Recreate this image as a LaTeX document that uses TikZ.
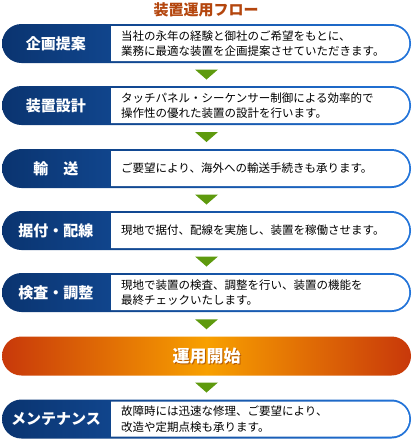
\documentclass[tikz,border=0pt]{standalone}
\usepackage{fontspec}
\setmainfont{Noto Sans CJK JP}
\definecolor{navy}{HTML}{0A3470}
\definecolor{skyline}{HTML}{2274DA}
\definecolor{leafgreen}{HTML}{5E9A0E}
\definecolor{rust}{HTML}{B4460E}
\definecolor{ember}{HTML}{C8380A}
\definecolor{amber}{HTML}{F8A000}
\usetikzlibrary{positioning,calc,shapes.misc}
\newcommand{\downtri}[1]{\fill[leafgreen] ($(#1)+(-11.5,-5)$) -- ($(#1)+(11.5,-5)$) -- ($(#1)+(0,5)$) -- cycle;}

\begin{document}
\begin{tikzpicture}[x=1pt,y=-1pt,
  bar/.style={rounded rectangle,minimum width=409pt,minimum height=39pt,inner sep=0pt,left color=navy,right color=skyline},
  panel/.style={rounded rectangle,rounded rectangle left arc=none,anchor=west,fill=white,minimum width=298pt,minimum height=35pt,inner sep=0pt},
  txt/.style={anchor=west,align=left,inner sep=0pt,font=\fontsize{11.5}{15.5}\selectfont},
  lab/.style={text=white,inner sep=0pt,font=\fontsize{15}{15}\selectfont\bfseries}]
\useasboundingbox (0,0) rectangle (413,440);
\node [text=rust,font=\fontsize{15}{15}\selectfont\bfseries] (ttl) at (206,10) {装置運用フロー};
% steps
\node [bar] (r1) at (206.5,43.5) {};
\node [panel] (p1) at (111,43.5) {};
\node [lab] (l1) at (56,43.5) {企画提案};
\node [txt] (t1) at (121,43.5) {当社の永年の経験と御社のご希望をもとに、\\業務に最適な装置を企画提案させていただきます。};

\node [bar] (r2) at (206.5,105.5) {};
\node [panel] (p2) at (111,105.5) {};
\node [lab] (l2) at (56,105.5) {装置設計};
\node [txt] (t2) at (121,105.5) {タッチパネル・シーケンサー制御による効率的で\\操作性の優れた装置の設計を行います。};

\node [bar] (r3) at (206.5,168.5) {};
\node [panel] (p3) at (111,168.5) {};
\node [lab] (l3) at (56,168.5) {輸　送};
\node [txt] (t3) at (121,168.5) {ご要望により、海外への輸送手続きも承ります。};

\node [bar] (r4) at (206.5,230.5) {};
\node [panel] (p4) at (111,230.5) {};
\node [lab] (l4) at (56,230.5) {据付・配線};
\node [txt] (t4) at (121,230.5) {現地で据付、配線を実施し、装置を稼働させます。};

\node [bar] (r5) at (206.5,292.5) {};
\node [panel] (p5) at (111,292.5) {};
\node [lab] (l5) at (56,292.5) {検査・調整};
\node [txt] (t5) at (121,292.5) {現地で装置の検査、調整を行い、装置の機能を\\最終チェックいたします。};

\node [bar,left color=ember,right color=ember,middle color=amber] (r6) at (206.5,356) {};
\node [lab,text=ember!60!black,opacity=.5,font=\fontsize{17}{17}\selectfont\bfseries] (s6) at (207.5,357) {運用開始};
\node [lab,font=\fontsize{17}{17}\selectfont\bfseries] (l6) at (206.5,356) {運用開始};

\node [bar] (r7) at (206.5,419) {};
\node [panel] (p7) at (111,419) {};
\node [lab] (l7) at (56,419) {メンテナンス};
\node [txt] (t7) at (121,419) {故障時には迅速な修理、ご要望により、\\改造や定期点検も承ります。};
% arrows
\coordinate (a1) at ($(r1.south)!.5!(r2.north)$);
\coordinate (a2) at ($(r2.south)!.5!(r3.north)$);
\coordinate (a3) at ($(r3.south)!.5!(r4.north)$);
\coordinate (a4) at ($(r4.south)!.5!(r5.north)$);
\coordinate (a5) at ($(r5.south)!.5!(r6.north)$);
\coordinate (a6) at ($(r6.south)!.5!(r7.north)$);
\downtri{a1} \downtri{a2} \downtri{a3}
\downtri{a4} \downtri{a5} \downtri{a6}
\end{tikzpicture}
\end{document}
